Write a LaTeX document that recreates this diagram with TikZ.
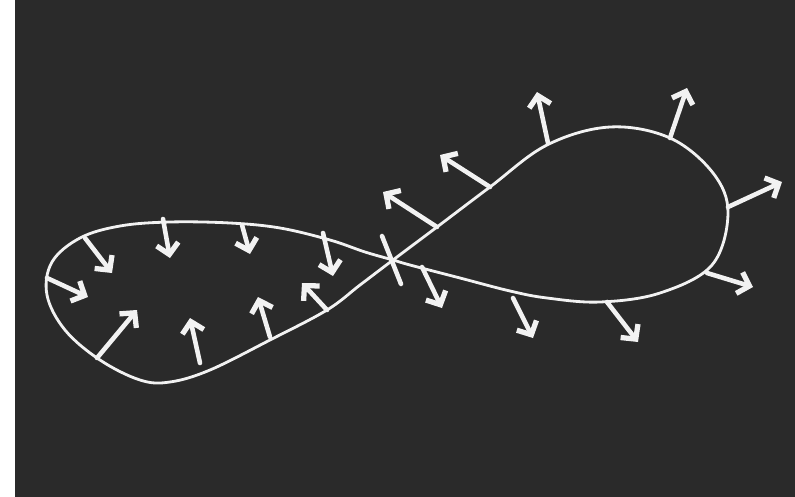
\documentclass[tikz,border=0pt]{standalone}
\usetikzlibrary{arrows.meta}
\definecolor{board}{HTML}{2A2A2A}
\definecolor{chalk}{HTML}{F2F2F2}
\begin{document}
\begin{tikzpicture}[x=0.02cm,y=-0.02cm,
	curve/.style={chalk, line width=1.6pt, line cap=round, line join=round},
	normal/.style={chalk, line width=2.6pt, line cap=round,
		-{Straight Barb[length=6pt,width=12.5pt,line width=3pt]}}]
		\useasboundingbox (0,0) rectangle (795,497);
		\fill [white] (0,0) rectangle (15,497);
		\fill [board] (15,0) rectangle (795,497);
		% the figure eight
		\coordinate (cross) at (393,260);
		\draw [curve] plot [smooth cycle, tension=0.6] coordinates {
			(437,227) (490,187) (547,145) (610,127) (670,138) (713,173)
			(728,213) (712,265) (660,293) (600,302) (547,298) (510,291)
			(460,278) (410,265) (393,260) (365,252) (330,240) (280,228)
			(230,223) (170,222) (120,226) (80,238) (52,262) (47,295)
			(65,330) (100,360) (140,380) (170,382) (210,370) (270,340)
			(327,310) (360,285) (393,260)};
		\coordinate (tickA) at (382,236);
		\coordinate (tickB) at (401,284);
		\draw [curve, line width=2.6pt] (tickA) -- (tickB);
		% normals, left loop (inward)
		\coordinate (b1) at (85,238);   \coordinate (t1) at (112,273);
		\coordinate (b2) at (163,219);  \coordinate (t2) at (170,258);
		\coordinate (b3) at (242,225);  \coordinate (t3) at (250,254);
		\coordinate (b4) at (323,233);  \coordinate (t4) at (333,276);
		\coordinate (b5) at (47,278);   \coordinate (t5) at (88,297);
		\coordinate (b6) at (97,358);   \coordinate (t6) at (137,310);
		\coordinate (b7) at (200,363);  \coordinate (t7) at (190,318);
		\coordinate (b8) at (270,337);  \coordinate (t8) at (258,297);
		\coordinate (b9) at (327,310);  \coordinate (t9) at (302,283);
		% normals, right loop (outward)
		\coordinate (b10) at (437,227); \coordinate (t10) at (383,192);
		\coordinate (b11) at (490,187); \coordinate (t11) at (440,155);
		\coordinate (b12) at (548,143); \coordinate (t12) at (537,92);
		\coordinate (b13) at (670,138); \coordinate (t13) at (687,88);
		\coordinate (b14) at (728,207); \coordinate (t14) at (782,182);
		\coordinate (b15) at (707,273); \coordinate (t15) at (753,287);
		\coordinate (b16) at (607,302); \coordinate (t16) at (638,342);
		\coordinate (b17) at (513,298); \coordinate (t17) at (533,338);
		\coordinate (b18) at (422,267); \coordinate (t18) at (442,308);
		\foreach \i in {1,...,18}
			\draw [normal] (b\i) -- (t\i);
	\end{tikzpicture}
\end{document}
